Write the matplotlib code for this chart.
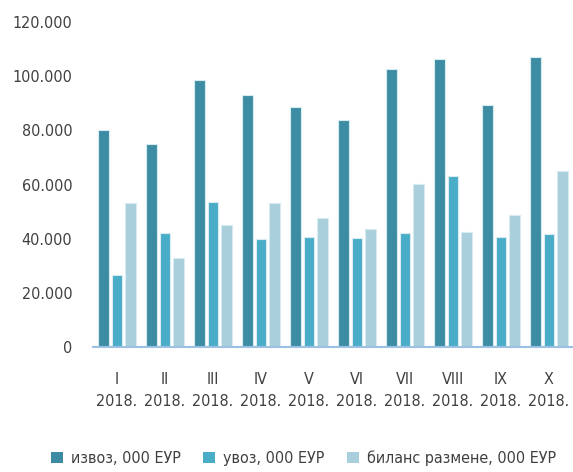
import matplotlib.pyplot as plt
import matplotlib.ticker as mticker
from matplotlib.patches import Patch
import numpy as np

plt.rcParams['font.family'] = ['DejaVu Sans']
plt.rcParams['font.stretch'] = 'condensed'

# Data (000 EUR), months I-X 2018
months = ["I", "II", "III", "IV", "V", "VI", "VII", "VIII", "IX", "X"]
izvoz = [80000, 75000, 98600, 93100, 88700, 83800, 102700, 106300, 89400, 107100]
uvoz = [26700, 42100, 53500, 39900, 40700, 40300, 42100, 63200, 40700, 41900]
bilans = [53300, 32900, 45100, 53100, 47700, 43400, 60300, 42600, 48700, 65100]
series_names = ["извоз, 000 ЕУР", "увоз, 000 ЕУР", "биланс размене, 000 ЕУР"]
colors = ["#3d8ca3", "#4aadc7", "#a9cfdc"]

text_color = "#404040"

fig = plt.figure(figsize=(5.73, 4.72), dpi=100)
ax = fig.add_axes([0.1623, 0.2648, 0.8377, 0.6886])

x = np.arange(len(months))
w = 0.22
step = 0.28
for i, (vals, c) in enumerate(zip([izvoz, uvoz, bilans], colors)):
    ax.bar(x + (i - 1) * step, vals, width=w, color=c,
           edgecolor="#d8ebf1", linewidth=0.8, zorder=2)

ax.set_xlim(-0.5, len(months) - 0.5)
ax.set_ylim(0, 120000)
ax.set_yticks(np.arange(0, 120001, 20000))
ax.yaxis.set_major_formatter(mticker.FuncFormatter(
    lambda v, p: f"{int(v):,}".replace(",", ".")))
ax.set_xticks(x)
ax.set_xticklabels([f"{m}\n2018." for m in months], linespacing=1.55)

ax.tick_params(axis="both", length=0, labelsize=11.5, colors=text_color)
ax.tick_params(axis="y", pad=15)
ax.tick_params(axis="x", pad=18)

for s in ["top", "right", "left"]:
    ax.spines[s].set_visible(False)
ax.spines["bottom"].set_color("#9cc0e4")
ax.spines["bottom"].set_linewidth(1.5)
ax.spines["bottom"].set_zorder(3)

handles = [Patch(facecolor=c, edgecolor="none") for c in colors]
leg = fig.legend(handles, series_names, loc="lower center", ncol=3,
                 bbox_to_anchor=(0.53, -0.018), frameon=False, fontsize=11.5,
                 handlelength=0.75, handleheight=0.75, handletextpad=0.5,
                 columnspacing=1.4)
for t in leg.get_texts():
    t.set_color(text_color)

fig.savefig("out.png", dpi=100)
